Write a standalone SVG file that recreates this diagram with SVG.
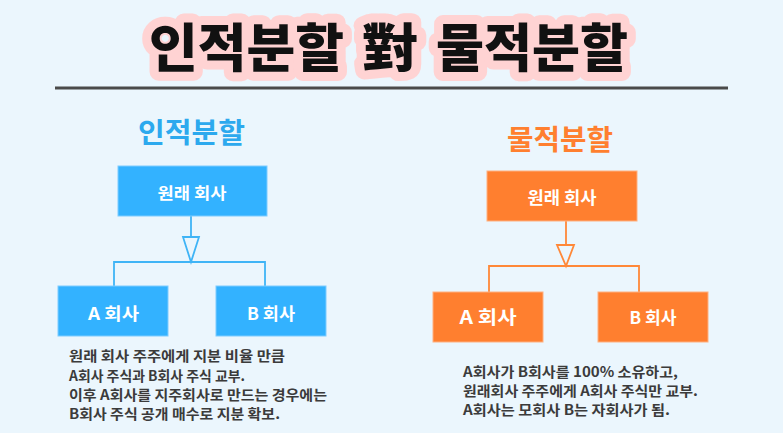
<svg xmlns="http://www.w3.org/2000/svg" width="783" height="433" viewBox="0 0 783 433">
<style>
.title{font-family:"Noto Sans CJK KR","Noto Sans",sans-serif;font-weight:900;font-size:52px;fill:#111;stroke:#FFD3D3;stroke-width:18;stroke-linejoin:round;stroke-linecap:round;paint-order:stroke}
.sec{font-family:"Noto Sans CJK KR",sans-serif;font-weight:700;font-size:28px}
.box{font-family:"Noto Sans CJK KR",sans-serif;font-weight:700;fill:#fff;text-anchor:middle}
.body{font-family:"Noto Sans CJK KR",sans-serif;font-weight:700;font-size:14px;fill:#3b3b3b}
.bl{fill:#33B2FF;stroke:#7FCCFF;stroke-width:1}
.or{fill:#FF7F2F;stroke:#FFB080;stroke-width:1}
.cb{fill:none;stroke:#3FB4F6;stroke-width:1.8}
.co{fill:none;stroke:#FF8838;stroke-width:1.8}
</style>
<rect width="783" height="433" fill="#EBF6FD"/>
<g id="title">
<text class="title" x="149" y="67" textLength="195" lengthAdjust="spacingAndGlyphs">인적분할</text>
<text class="title" x="362" y="67" textLength="56" lengthAdjust="spacingAndGlyphs">對</text>
<text class="title" x="436" y="67" textLength="192" lengthAdjust="spacingAndGlyphs">물적분할</text>
</g>
<line x1="55" y1="88" x2="728" y2="88" stroke="#4a4a4a" stroke-width="3"/>
<g id="left-heading"><text class="sec" x="138" y="143" fill="#2CA9EE" textLength="107" lengthAdjust="spacingAndGlyphs">인적분할</text></g>
<g id="right-heading"><text class="sec" x="507" y="150" fill="#FF7F2F" textLength="106" lengthAdjust="spacingAndGlyphs">물적분할</text></g>
<g id="connectors">
<line class="cb" x1="191" y1="216" x2="191" y2="237"/>
<polygon class="cb" points="183,237 199,237 191,262" fill="#EBF6FD"/>
<polyline class="cb" points="114,287 114,262 265,262 265,287"/>
<line class="co" x1="566" y1="221" x2="566" y2="245"/>
<polygon class="co" points="557,245 574,245 566,266" fill="#EBF6FD"/>
<polyline class="co" points="489,292 489,266 639,266 639,292"/>
</g>
<g id="left-orig"><rect class="bl" x="118" y="166" width="149" height="50"/><text class="box" x="192" y="199" font-size="16" textLength="69" lengthAdjust="spacingAndGlyphs">원래 회사</text></g>
<g id="left-a"><rect class="bl" x="58" y="286" width="110" height="50"/><text class="box" x="113.5" y="320" font-size="17" textLength="51" lengthAdjust="spacingAndGlyphs">A 회사</text></g>
<g id="left-b"><rect class="bl" x="216" y="286" width="110" height="50"/><text class="box" x="271" y="320" font-size="17" textLength="48" lengthAdjust="spacingAndGlyphs">B 회사</text></g>
<g id="right-orig"><rect class="or" x="487" y="171" width="150" height="50"/><text class="box" x="562" y="204" font-size="17" textLength="69" lengthAdjust="spacingAndGlyphs">원래 회사</text></g>
<g id="right-a"><rect class="or" x="433" y="292" width="110" height="50"/><text class="box" x="488" y="324" font-size="18" textLength="57" lengthAdjust="spacingAndGlyphs">A 회사</text></g>
<g id="right-b"><rect class="or" x="598" y="292" width="110" height="50"/><text class="box" x="653" y="324" font-size="17" textLength="47" lengthAdjust="spacingAndGlyphs">B 회사</text></g>
<g id="left-desc">
<text class="body" x="69" y="361" textLength="216" lengthAdjust="spacingAndGlyphs">원래 회사 주주에게 지분 비율 만큼</text>
<text class="body" x="69" y="381" textLength="176" lengthAdjust="spacingAndGlyphs">A회사 주식과 B회사 주식 교부.</text>
<text class="body" x="69" y="400" textLength="258" lengthAdjust="spacingAndGlyphs">이후 A회사를 지주회사로 만드는 경우에는</text>
<text class="body" x="69" y="419" textLength="211" lengthAdjust="spacingAndGlyphs">B회사 주식 공개 매수로 지분 확보.</text>
</g>
<g id="right-desc">
<text class="body" x="463" y="377" textLength="215" lengthAdjust="spacingAndGlyphs">A회사가 B회사를 100% 소유하고,</text>
<text class="body" x="463" y="396" textLength="235" lengthAdjust="spacingAndGlyphs">원래회사 주주에게 A회사 주식만 교부.</text>
<text class="body" x="463" y="415" textLength="207" lengthAdjust="spacingAndGlyphs">A회사는 모회사 B는 자회사가 됨.</text>
</g>
</svg>
